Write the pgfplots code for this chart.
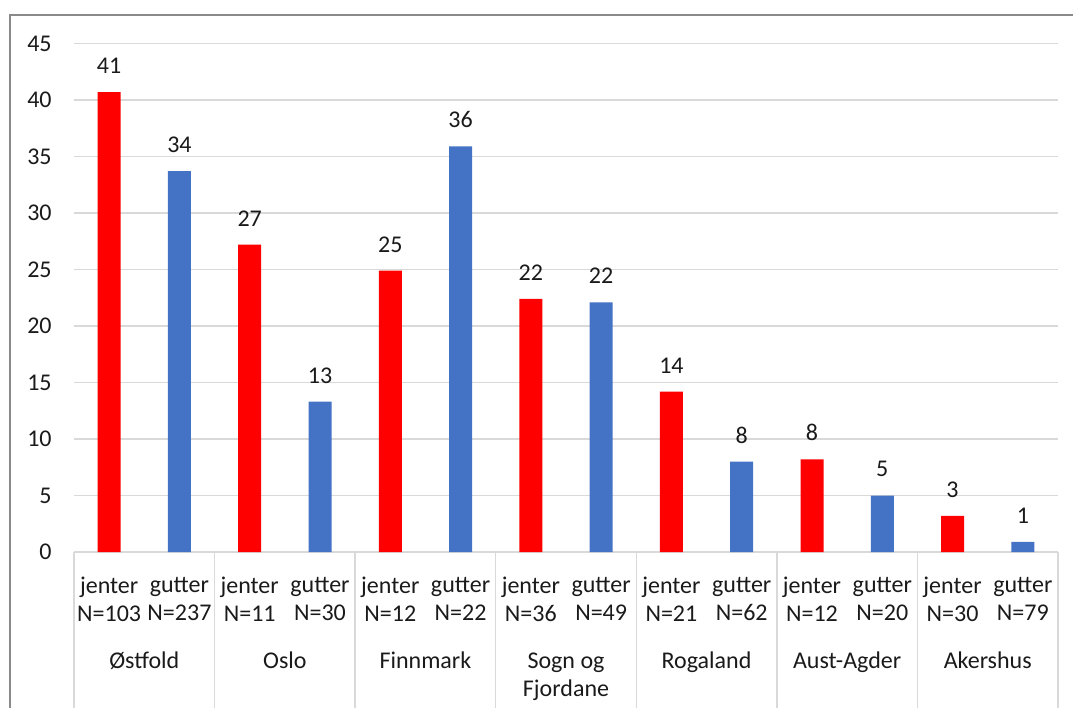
\documentclass[border=0pt]{standalone}
\usepackage{pgfplots}
\pgfplotsset{compat=1.18}
\usepackage{fontspec}
\setmainfont{Carlito}
\definecolor{jred}{HTML}{FF0000}
\definecolor{gblue}{HTML}{4472C4}
\definecolor{gridgray}{HTML}{D9D9D9}
\definecolor{framegray}{HTML}{8A8A8A}
\definecolor{txt}{HTML}{1A1A1A}
\newcommand{\lblfont}{\fontsize{12}{14}\selectfont}

\begin{document}
\begin{tikzpicture}
\path[use as bounding box] (0,0) rectangle (536.5pt,354pt);
\draw[framegray, line width=1pt] (5pt,-5pt) -- (5pt,346.5pt) -- (545pt,346.5pt);
\begin{axis}[
    at={(37pt,78pt)}, anchor=south west,
    scale only axis, width=492pt, height=254.25pt,
    xmin=-0.5, xmax=13.5, ymin=0, ymax=45,
    ytick={0,5,...,45},
    xtick={0,...,13},
    xticklabels={{jenter\\N=103},{gutter\\N=237},{jenter\\N=11},{gutter\\N=30},
                 {jenter\\N=12},{gutter\\N=22},{jenter\\N=36},{gutter\\N=49},
                 {jenter\\N=21},{gutter\\N=62},{jenter\\N=12},{gutter\\N=20},
                 {jenter\\N=30},{gutter\\N=79}},
    axis lines=left,
    axis line style={-},
    y axis line style={draw=none},
    x axis line style={gridgray, line width=0.75pt},
    major tick length=0pt,
    ymajorgrids,
    grid style={gridgray, line width=0.75pt},
    tick label style={font=\lblfont, text=txt},
    /pgf/number format/assume math mode=true,
    yticklabel style={anchor=east, inner sep=0pt, xshift=-11pt},
    xticklabel style={align=center, anchor=center, inner sep=0pt, yshift=-23.5pt},
    ybar, bar width=11.5pt,
    clip=false,
    point meta=explicit symbolic,
    nodes near coords,
    every node near coord/.append style={font=\lblfont, text=txt,
        anchor=south, inner sep=0pt, yshift=9pt},
]
\addplot[fill=jred, draw=none, bar shift=0pt] coordinates {
    (0,40.7) [41] (2,27.2) [27] (4,24.9) [25] (6,22.4) [22]
    (8,14.2) [14] (10,8.2) [8] (12,3.2) [3]
};
\addplot[fill=gblue, draw=none, bar shift=0pt] coordinates {
    (1,33.7) [34] (3,13.3) [13] (5,35.9) [36] (7,22.1) [22]
    (9,8.0) [8] (11,5.0) [5] (13,0.9) [1]
};
\pgfplotsinvokeforeach{-0.5,1.5,3.5,5.5,7.5,9.5,11.5,13.5}{
    \draw[gridgray, line width=0.75pt] (axis cs:#1,0) -- ([yshift=-85pt]axis cs:#1,0);
}
\begin{scope}[font=\lblfont, text=txt, every node/.style={anchor=base, inner sep=0pt, yshift=-58pt}]
\node at (axis cs:0.5,0) {Østfold};
\node at (axis cs:2.5,0) {Oslo};
\node at (axis cs:4.5,0) {Finnmark};
\node at (axis cs:6.5,0) {Sogn og};
\node at ([yshift=-14pt]axis cs:6.5,0) {Fjordane};
\node at (axis cs:8.5,0) {Rogaland};
\node at (axis cs:10.5,0) {Aust-Agder};
\node at (axis cs:12.5,0) {Akershus};
\end{scope}
\end{axis}
\end{tikzpicture}
\end{document}
